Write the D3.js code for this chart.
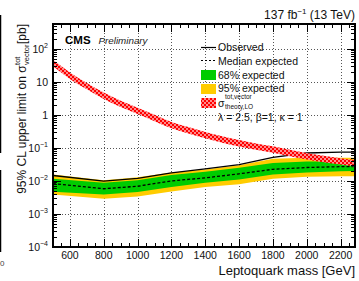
<!DOCTYPE html>
<html>
<head>
<meta charset="utf-8">
<script src="https://cdn.jsdelivr.net/npm/d3@7"></script>
<style>
  body { margin: 0; background: #fff; }
  svg { display: block; font-family: "Liberation Sans", Arial, sans-serif; }
</style>
</head>
<body>
<div id="chart"></div>
<script>
// leptoquark masses (GeV)
const masses = [500, 800, 1000, 1200, 1400, 1600, 1800, 2000, 2200, 2285];
const observed = [1.46e-2, 9.8e-3, 1.2e-2, 1.75e-2, 2.3e-2, 3.1e-2, 5.2e-2, 7.0e-2, 7.4e-2, 7.4e-2];
const median   = [8.3e-3, 5.8e-3, 6.9e-3, 1.0e-2, 1.24e-2, 1.64e-2, 2.25e-2, 2.55e-2, 2.7e-2, 2.75e-2];
const green_lo = [4.7e-3, 3.9e-3, 4.6e-3, 6.5e-3, 8.8e-3, 1.1e-2, 1.56e-2, 1.8e-2, 1.95e-2, 2.0e-2];
const green_hi = [1.16e-2, 8.8e-3, 1.05e-2, 1.5e-2, 1.88e-2, 2.5e-2, 3.5e-2, 3.9e-2, 3.9e-2, 3.9e-2];
const yellow_lo = [3.9e-3, 2.9e-3, 3.4e-3, 4.8e-3, 6.6e-3, 8.0e-3, 1.16e-2, 1.33e-2, 1.38e-2, 1.39e-2];
const yellow_hi = [1.56e-2, 1.05e-2, 1.3e-2, 1.8e-2, 2.2e-2, 3.0e-2, 4.7e-2, 5.0e-2, 5.0e-2, 5.0e-2];

// theory cross section (LO)
const theoryMass = [500, 600, 700, 800, 900, 1000, 1100, 1200, 1300, 1400, 1500, 1600, 1700, 1800, 1900, 2000, 2100, 2200, 2285];
const theoryXsec = [38, 15.7, 7.6, 3.9, 2.2, 1.35, 0.82, 0.5, 0.35, 0.25, 0.185, 0.142, 0.112, 0.092, 0.072, 0.057, 0.047, 0.04, 0.035];
const theoryUnc = 0.22;

const xTicks = [600, 800, 1000, 1200, 1400, 1600, 1800, 2000, 2200];
const yTicks = [1e2, 1e1, 1, 1e-1, 1e-2, 1e-3, 1e-4];
const yTickLabels = [["10","2"], ["10",""], ["1",""], ["10","\u22121"], ["10","\u22122"], ["10","\u22123"], ["10","\u22124"]];

const W = 359, H = 281;
const L = 53, R = 355, T = 24, B = 247;

const svg = d3.select("#chart").append("svg").attr("width", W).attr("height", H);

const x = d3.scaleLinear().domain([500, 2285]).range([L, R]);
const y = d3.scaleLog().domain([1e-4, Math.pow(10, 2.75)]).range([B, T]);

// pieces of the neighbouring figure at the left edge
svg.append("line").attr("x1", 0.5).attr("x2", 0.5).attr("y1", 15).attr("y2", 153).attr("stroke", "#000").attr("stroke-width", 1.5);
svg.append("line").attr("x1", 0.5).attr("x2", 0.5).attr("y1", 170).attr("y2", 252).attr("stroke", "#000").attr("stroke-width", 1.5);
svg.append("text").attr("x", 0).attr("y", 266).attr("font-size", 8).attr("fill", "#444").text("0");

const defs = svg.append("defs");
const pat = defs.append("pattern").attr("id", "checker").attr("patternUnits", "userSpaceOnUse")
  .attr("width", 4).attr("height", 4);
pat.append("rect").attr("width", 4).attr("height", 4).attr("fill", "#ff8c8c");
pat.append("rect").attr("width", 2).attr("height", 2).attr("fill", "#ff0000");
pat.append("rect").attr("x", 2).attr("y", 2).attr("width", 2).attr("height", 2).attr("fill", "#ff0000");

defs.append("clipPath").attr("id", "plotclip").append("rect")
  .attr("x", L).attr("y", T).attr("width", R - L).attr("height", B - T);

// grid
const grid = svg.append("g").attr("stroke", "#555").attr("stroke-width", 1).attr("stroke-dasharray", "1,2");
xTicks.forEach(t => grid.append("line").attr("x1", Math.round(x(t)) + 0.5).attr("x2", Math.round(x(t)) + 0.5).attr("y1", T).attr("y2", B));
yTicks.forEach(t => grid.append("line").attr("x1", L).attr("x2", R).attr("y1", Math.round(y(t)) + 0.5).attr("y2", Math.round(y(t)) + 0.5));

const plot = svg.append("g").attr("clip-path", "url(#plotclip)");

const band = (lo, hi) => d3.area().x((d, i) => x(masses[i])).y0((d, i) => y(lo[i])).y1((d, i) => y(hi[i]));
plot.append("path").datum(masses).attr("d", band(yellow_lo, yellow_hi)).attr("fill", "#ffcc00");
plot.append("path").datum(masses).attr("d", band(green_lo, green_hi)).attr("fill", "#00cc00");

const line = vals => d3.line().x((d, i) => x(masses[i])).y((d, i) => y(vals[i]));
plot.append("path").datum(masses).attr("d", line(median)).attr("fill", "none")
  .attr("stroke", "#000").attr("stroke-width", 1.3).attr("stroke-dasharray", "3,2");
plot.append("path").datum(masses).attr("d", line(observed)).attr("fill", "none")
  .attr("stroke", "#000").attr("stroke-width", 1.3);

const theoryArea = d3.area().curve(d3.curveMonotoneX)
  .x((d, i) => x(theoryMass[i]))
  .y0((d, i) => y(theoryXsec[i] * (1 - theoryUnc)))
  .y1((d, i) => y(theoryXsec[i] * (1 + theoryUnc)));
plot.append("path").datum(theoryMass).attr("d", theoryArea).attr("fill", "url(#checker)");

// ticks
const tk = svg.append("g").attr("stroke", "#000").attr("stroke-width", 1);
d3.range(500, 2286, 50).forEach(m => {
  const big = m % 200 === 0;
  const len = big ? 8 : 4;
  const px = Math.round(x(m)) + 0.5;
  tk.append("line").attr("x1", px).attr("x2", px).attr("y1", B).attr("y2", B - len);
  tk.append("line").attr("x1", px).attr("x2", px).attr("y1", T).attr("y2", T + len);
});
for (let e = -4; e <= 2; e++) {
  for (let k = 1; k <= 9; k++) {
    const v = k * Math.pow(10, e);
    if (y(v) < T) continue;
    const len = k === 1 ? 8 : 4;
    const py = Math.round(y(v)) + 0.5;
    tk.append("line").attr("x1", L).attr("x2", L + len).attr("y1", py).attr("y2", py);
    tk.append("line").attr("x1", R).attr("x2", R - len).attr("y1", py).attr("y2", py);
  }
}
[3, 4, 5].forEach(k => {
  const py = Math.round(y(k * 100)) + 0.5;
  tk.append("line").attr("x1", L).attr("x2", L + 4).attr("y1", py).attr("y2", py);
  tk.append("line").attr("x1", R).attr("x2", R - 4).attr("y1", py).attr("y2", py);
});

// frame
svg.append("rect").attr("x", L).attr("y", T).attr("width", R - L).attr("height", B - T)
  .attr("fill", "none").attr("stroke", "#000").attr("stroke-width", 2);

// x tick labels
svg.append("g").selectAll("text").data(xTicks).join("text")
  .attr("x", d => x(d)).attr("y", 259).attr("text-anchor", "middle")
  .attr("font-size", 10.5).attr("fill", "#111").text(d => d);

// y tick labels
yTicks.forEach((t, i) => {
  const tx = svg.append("text").attr("x", 48).attr("y", y(t) + 4).attr("text-anchor", "end")
    .attr("font-size", 10.5).attr("fill", "#111");
  tx.append("tspan").text(yTickLabels[i][0]);
  if (yTickLabels[i][1]) tx.append("tspan").attr("dy", -5).attr("font-size", 7).text(yTickLabels[i][1]);
});

// axis titles
svg.append("text").attr("x", 355).attr("y", 275).attr("text-anchor", "end")
  .attr("font-size", 13).attr("fill", "#111").text("Leptoquark mass [GeV]");

const yl = svg.append("g").attr("transform", "translate(26,24) rotate(-90)");
const ylA = yl.append("text").attr("font-size", 12).attr("fill", "#111").text("95% CL upper limit on \u03c3");
const wA = ylA.node().getComputedTextLength();
const ylSup = yl.append("text").attr("font-size", 7.5).attr("fill", "#111").attr("x", wA + 0.5).attr("y", -6).text("tot");
const ylSub = yl.append("text").attr("font-size", 7.5).attr("fill", "#111").attr("x", wA + 0.5).attr("y", 3).text("vector");
const wS = Math.max(ylSup.node().getComputedTextLength(), ylSub.node().getComputedTextLength());
const ylB = yl.append("text").attr("font-size", 12).attr("fill", "#111").attr("x", wA + wS + 1).text(" [pb]");
const total = wA + wS + 1 + ylB.node().getComputedTextLength();
yl.selectAll("text").attr("transform", `translate(${-total},0)`);

// header
svg.append("text").attr("x", 355).attr("y", 19).attr("text-anchor", "end").attr("font-size", 12).attr("fill", "#111")
  .call(t => {
    t.append("tspan").text("137 fb");
    t.append("tspan").attr("dy", -5).attr("font-size", 8).text("\u22121");
    t.append("tspan").attr("dy", 5).text(" (13 TeV)");
  });
svg.append("text").attr("x", 65).attr("y", 44).attr("font-size", 11.5).attr("font-weight", "bold").text("CMS");
svg.append("text").attr("x", 98.5).attr("y", 44).attr("font-size", 9.8).attr("font-style", "italic").attr("fill", "#222").text("Preliminary");

// legend
const lg = svg.append("g").attr("font-size", 10.5).attr("fill", "#111");
const lx = 201, lw = 15, tx = 218;
lg.append("line").attr("x1", lx).attr("x2", lx + lw).attr("y1", 47.5).attr("y2", 47.5).attr("stroke", "#000").attr("stroke-width", 1.2);
lg.append("text").attr("x", tx).attr("y", 51).text("Observed");
lg.append("line").attr("x1", lx).attr("x2", lx + lw).attr("y1", 60.5).attr("y2", 60.5).attr("stroke", "#000").attr("stroke-width", 1.2).attr("stroke-dasharray", "2,2");
lg.append("text").attr("x", tx).attr("y", 64.5).text("Median expected");
lg.append("rect").attr("x", lx).attr("y", 70).attr("width", lw).attr("height", 10).attr("fill", "#00cc00");
lg.append("text").attr("x", tx).attr("y", 78.5).text("68% expected");
lg.append("rect").attr("x", lx).attr("y", 84).attr("width", lw).attr("height", 10).attr("fill", "#ffcc00");
lg.append("text").attr("x", tx).attr("y", 92).text("95% expected");
lg.append("rect").attr("x", lx).attr("y", 98).attr("width", lw).attr("height", 10).attr("fill", "url(#checker)");
lg.append("text").attr("x", tx).attr("y", 107).text("\u03c3");
lg.append("text").attr("x", tx + 7).attr("y", 99).attr("font-size", 6.5).text("tot,vector");
lg.append("text").attr("x", tx + 7).attr("y", 109).attr("font-size", 6.5).text("theory,LO");
lg.append("text").attr("x", tx).attr("y", 120.5).text("\u03bb = 2.5, \u03b2=1, \u03ba = 1");
</script>
</body>
</html>
